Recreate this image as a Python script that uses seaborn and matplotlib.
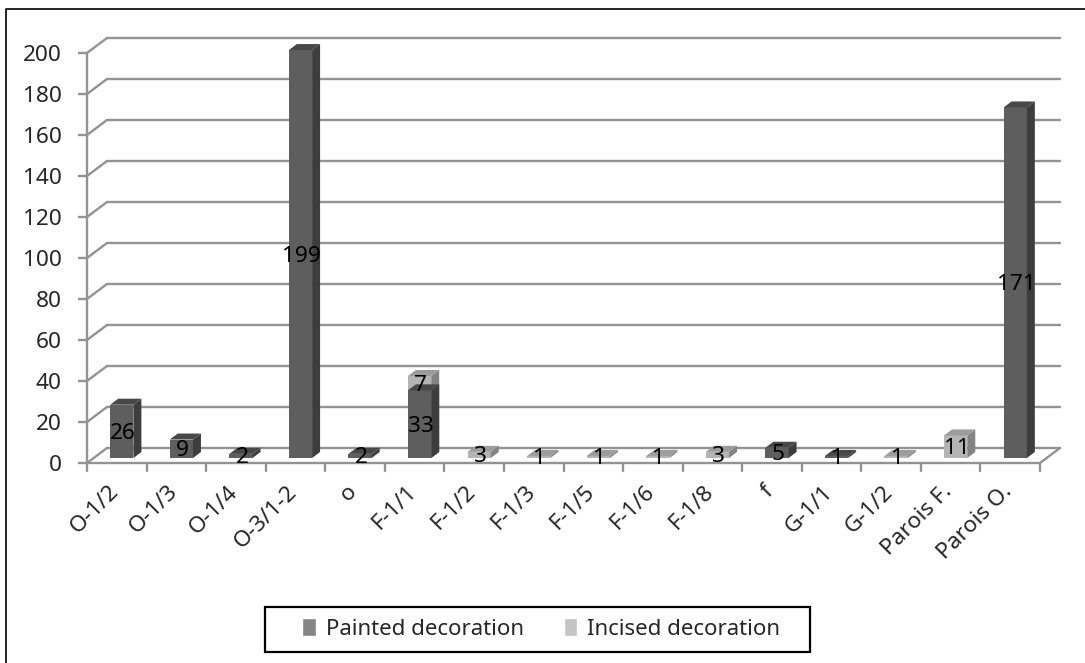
import matplotlib
matplotlib.use("Agg")
import matplotlib.pyplot as plt
import pandas as pd
import seaborn as sns
from matplotlib.lines import Line2D
from matplotlib.patches import Patch, Polygon, Rectangle
from matplotlib.transforms import Affine2D

categories = ["O-1/2", "O-1/3", "O-1/4", "O-3/1-2", "o", "F-1/1", "F-1/2", "F-1/3",
	"F-1/5", "F-1/6", "F-1/8", "f", "G-1/1", "G-1/2", "Parois F.", "Parois O."]
painted = [26, 9, 2, 199, 2, 33, 0, 0, 0, 0, 0, 5, 1, 0, 0, 171]
incised = [0, 0, 0, 0, 0, 7, 3, 1, 1, 1, 3, 0, 0, 1, 11, 0]
y_ticks = list(range(0, 201, 20))

W, H = 1085, 663
LEFT, RIGHT, BOTTOM, TOP = 87, 1040, 463, 53  # plot box in image pixels
WALL_DX, WALL_DY = 20, 15  # back wall shift
BAR_DX, BAR_DY = 5, 5  # bars stand a bit behind the front edge
SIDE_DX, SIDE_DY = 8, 6  # bar depth
GRID = "#939393"
LW = 1.7
FS = 16.3

sns.set_style("white")
plt.rcParams["font.family"] = ["Noto Sans", "DejaVu Sans"]

df = pd.DataFrame({"cat": categories, "painted": painted, "incised": incised})
df["total"] = df["painted"] + df["incised"]

fig = plt.figure(figsize=(W / 100, H / 100), dpi=100)
ax = fig.add_axes([LEFT / W, 1 - BOTTOM / H, (RIGHT - LEFT) / W, (BOTTOM - TOP) / H])

# totals first, painted on top of them = stacked
sns.barplot(data=df, x="cat", y="total", color="#b4b4b4", saturation=1, width=0.39, linewidth=0, ax=ax, zorder=3)
n_light = len(ax.patches)
sns.barplot(data=df, x="cat", y="painted", color="#5e5e5e", saturation=1, width=0.39, linewidth=0, ax=ax, zorder=4)

ax.set_xlim(-0.5, len(categories) - 0.5)
ax.set_ylim(0, 200)
ax.set_xlabel("")
ax.set_ylabel("")
ax.set_yticks(y_ticks)
ax.set_xticks(range(len(categories)))
ax.set_xticklabels(categories, rotation=45, ha="right", rotation_mode="anchor")
ax.tick_params(axis="y", labelsize=FS, length=6.5, width=LW, color=GRID, pad=11.5, left=True)
ax.tick_params(axis="x", labelsize=FS, length=0, pad=14)
for lab in ax.get_xticklabels():
	lab.set_transform(lab.get_transform() + Affine2D().translate(-9, 1))
for side in ["top", "right", "bottom", "left"]:
	ax.spines[side].set_visible(False)
ax.patch.set_alpha(0)

# pixel shift (y up in display coords)
def shifted(dx, dy):
	return ax.transData + Affine2D().translate(dx, dy)

# back wall gridlines and the diagonal bits on the left wall
px = Affine2D().scale(1, 1)
for v in y_ticks:
	ax.plot([-0.5, len(categories) - 0.5], [v, v], transform=shifted(WALL_DX, WALL_DY),
		color=GRID, lw=LW, clip_on=False, zorder=1)
	x0, y0 = ax.transData.transform((-0.5, v))
	ax.plot([x0, x0 + WALL_DX], [y0, y0 + WALL_DY], transform=px, color=GRID, lw=LW, clip_on=False, zorder=1)

# front edge of floor, left axis, right floor edge, category ticks
ax.plot([-0.5, len(categories) - 0.5], [0, 0], color=GRID, lw=LW, clip_on=False, zorder=2)
ax.plot([-0.5, -0.5], [0, 200], color=GRID, lw=LW, clip_on=False, zorder=2)
x1, y1 = ax.transData.transform((len(categories) - 0.5, 0))
ax.plot([x1, x1 + WALL_DX], [y1, y1 + WALL_DY], transform=px, color=GRID, lw=LW, clip_on=False, zorder=2)
for i in range(len(categories) + 1):
	x2, y2 = ax.transData.transform((i - 0.5, 0))
	ax.plot([x2, x2], [y2, y2 - 8], transform=px, color=GRID, lw=LW, clip_on=False, zorder=2)

def draw_box(rect, side_color, top_color, z):
	# turn a flat seaborn bar into a box, labels come later
	tr = shifted(BAR_DX, BAR_DY)
	rect.set_transform(tr)
	rect.set_clip_on(False)
	rect.set_zorder(z)
	x, y = rect.get_xy()
	w, h = rect.get_width(), rect.get_height()
	xa, ya = tr.transform((x, y))
	xb, yb = tr.transform((x + w, y + h))
	side = [(xb, ya), (xb + SIDE_DX, ya + SIDE_DY), (xb + SIDE_DX, yb + SIDE_DY), (xb, yb)]
	top = [(xa, yb), (xa + SIDE_DX, yb + SIDE_DY), (xb + SIDE_DX, yb + SIDE_DY), (xb, yb)]
	ax.add_patch(Polygon(side, closed=True, transform=px, fc=side_color, ec="none", clip_on=False, zorder=z))
	ax.add_patch(Polygon(top, closed=True, transform=px, fc=top_color, ec="none", clip_on=False, zorder=z))

light_bars = list(ax.patches[:n_light])
dark_bars = list(ax.patches[n_light:])
for r, val in zip(light_bars, incised):
	if val > 0:
		draw_box(r, "#838383", "#9c9c9c", 3)
	else:
		r.set_visible(False)
for r, val in zip(dark_bars, painted):
	if val > 0:
		draw_box(r, "#3d3d3d", "#484848", 4)
	else:
		r.set_visible(False)

# value labels, centred on each stack segment
label_tr = shifted(BAR_DX + 1, BAR_DY - 2)
for i, (p, q) in enumerate(zip(painted, incised)):
	if p > 0:
		ax.text(i, p / 2, str(p), transform=label_tr, ha="center", va="center",
			fontsize=FS, color="black", zorder=6, clip_on=False)
	if q > 0:
		ax.text(i, p + q / 2, str(q), transform=label_tr, ha="center", va="center",
			fontsize=FS, color="black", zorder=6, clip_on=False)

# legend: box drawn apart because its padding is not even
fig.add_artist(Rectangle((265 / W, 1 - 652 / H), 545 / W, 45 / H, transform=fig.transFigure,
	fill=False, ec="black", lw=1.6))
handles = [Patch(fc="#858585", label="Painted decoration"), Patch(fc="#c4c4c4", label="Incised decoration")]
fig.legend(handles=handles, ncol=2, loc="center", bbox_to_anchor=(541 / W, 1 - 629 / H),
	fontsize=16, frameon=False, handlelength=0.62, handleheight=0.85, handletextpad=0.45, columnspacing=1.8)

# picture frame: only top and left lines reach into the crop
fig.add_artist(Line2D([6 / W, 6 / W, 1], [0, 1 - 9 / H, 1 - 9 / H], transform=fig.transFigure, color="black", lw=1.2))

fig.savefig("out.png", dpi=100)
